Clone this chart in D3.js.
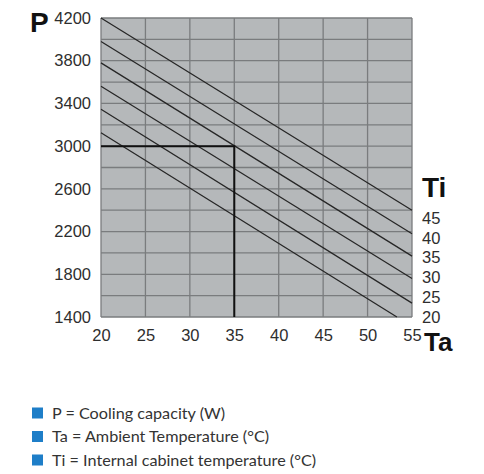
<!DOCTYPE html>
<html>
<head>
<meta charset="utf-8">
<script src="https://cdn.jsdelivr.net/npm/d3@7"></script>
<style>
  html, body { margin: 0; padding: 0; background: #fff; }
  svg { display: block; }
</style>
</head>
<body>
<svg id="chart" width="484" height="474"></svg>
<script>
// Ambient temperature ticks (°C) and cooling capacity ticks (W)
const taTicks = [20, 25, 30, 35, 40, 45, 50, 55];
const pTicks = [1400, 1800, 2200, 2600, 3000, 3400, 3800, 4200];

// Internal cabinet temperatures, one capacity line each
const tiValues = [45, 40, 35, 30, 25, 20];
// Start point (Ta, P) and end point (Ta, P) of each capacity line
const tiStartTa = [20, 20, 20, 20, 20, 20];
const tiStartP = [4200, 3980, 3780, 3560, 3345, 3125];
const tiEndTa = [55, 55, 55, 55, 55, 53.3];
const tiEndP = [2400, 2180, 1970, 1760, 1530, 1400];

// Reading example: Ta = 35 °C gives P = 3000 W
const exampleTa = 35;
const exampleP = 3000;

const legendItems = [
  "P = Cooling capacity (W)",
  "Ta = Ambient Temperature (°C)",
  "Ti = Internal cabinet temperature (°C)"
];

const svg = d3.select("#chart");
const plotLeft = 101, plotRight = 412, plotTop = 18, plotBottom = 317;

const x = d3.scaleLinear().domain([20, 55]).range([plotLeft, plotRight]);
const y = d3.scaleLinear().domain([1400, 4200]).range([plotBottom, plotTop]);

const labelFont = "Liberation Sans, Arial, sans-serif";
const textColor = "#2e2e2e";
const tickSize = 16.5;

// Plot background
svg.append("rect")
  .attr("x", plotLeft).attr("y", plotTop)
  .attr("width", plotRight - plotLeft).attr("height", plotBottom - plotTop)
  .attr("fill", "#b5b8ba");

// Grid: verticals every 5 °C, horizontals every 200 W
const g = svg.append("g");
g.selectAll("line.v").data(taTicks).join("line")
  .attr("class", "v")
  .attr("x1", d => x(d)).attr("x2", d => x(d))
  .attr("y1", plotTop).attr("y2", plotBottom)
  .attr("stroke", "#7a7c7e").attr("stroke-width", 1.3);
g.selectAll("line.h").data(d3.range(1400, 4201, 200)).join("line")
  .attr("class", "h")
  .attr("y1", d => y(d)).attr("y2", d => y(d))
  .attr("x1", plotLeft).attr("x2", plotRight)
  .attr("stroke", "#7a7c7e").attr("stroke-width", 1.3);

// Capacity lines
const lineData = tiValues.map((ti, i) => ({
  ti,
  pts: [[tiStartTa[i], tiStartP[i]], [tiEndTa[i], tiEndP[i]]]
}));
const lineGen = d3.line().x(d => x(d[0])).y(d => y(d[1]));
svg.selectAll("path.ti").data(lineData).join("path")
  .attr("class", "ti")
  .attr("d", d => lineGen(d.pts))
  .attr("fill", "none")
  .attr("stroke", "#262626")
  .attr("stroke-width", 1.25);

// Reading example path
svg.append("path")
  .attr("d", lineGen([[20, exampleP], [exampleTa, exampleP], [exampleTa, 1400]]))
  .attr("fill", "none")
  .attr("stroke", "#111")
  .attr("stroke-width", 2);

// Y axis labels
const yAxis = d3.axisLeft(y).tickValues(pTicks).tickSize(0).tickPadding(10)
  .tickFormat(d3.format("d"));
const ya = svg.append("g").attr("transform", `translate(${plotLeft},0)`).call(yAxis);
ya.select(".domain").remove();
ya.attr("font-family", labelFont).attr("font-size", tickSize);
ya.selectAll("text").attr("fill", textColor);

// X axis labels
const xAxis = d3.axisBottom(x).tickValues(taTicks).tickSize(0).tickPadding(12)
  .tickFormat(d3.format("d"));
const xa = svg.append("g").attr("transform", `translate(0,${plotBottom})`).call(xAxis);
xa.select(".domain").remove();
xa.attr("font-family", labelFont).attr("font-size", tickSize);
xa.selectAll("text").attr("fill", textColor);

// Axis titles
svg.append("text").attr("x", 30).attr("y", 32)
  .attr("font-family", labelFont).attr("font-weight", "bold")
  .attr("font-size", 28).attr("fill", "#111").text("P");
svg.append("text").attr("x", 424).attr("y", 351)
  .attr("font-family", labelFont).attr("font-weight", "bold")
  .attr("font-size", 26).attr("fill", "#111").text("Ta");
svg.append("text").attr("x", 422).attr("y", 197)
  .attr("font-family", labelFont).attr("font-weight", "bold")
  .attr("font-size", 28).attr("fill", "#111").text("Ti");

// Ti labels, stacked at the right edge
const tiY = d3.scaleLinear().domain([20, 45]).range([plotBottom, plotBottom - 99]);
svg.selectAll("text.tiLabel").data(tiValues).join("text")
  .attr("class", "tiLabel")
  .attr("x", 422)
  .attr("y", d => tiY(d))
  .attr("dy", "0.35em")
  .attr("font-family", labelFont).attr("font-size", tickSize)
  .attr("fill", textColor)
  .text(d => d);

// Legend
const lg = svg.append("g");
const rowY = d3.scalePoint().domain(legendItems).range([413, 460]);
lg.selectAll("rect").data(legendItems).join("rect")
  .attr("x", 32).attr("y", d => rowY(d) - 5.5)
  .attr("width", 11).attr("height", 11)
  .attr("fill", "#1e7ec8");
lg.selectAll("text").data(legendItems).join("text")
  .attr("x", 52).attr("y", d => rowY(d))
  .attr("dy", "0.35em")
  .attr("font-family", "Lato, 'Noto Sans', sans-serif").attr("font-size", 16.2)
  .attr("fill", "#333")
  .text(d => d);
</script>
</body>
</html>
